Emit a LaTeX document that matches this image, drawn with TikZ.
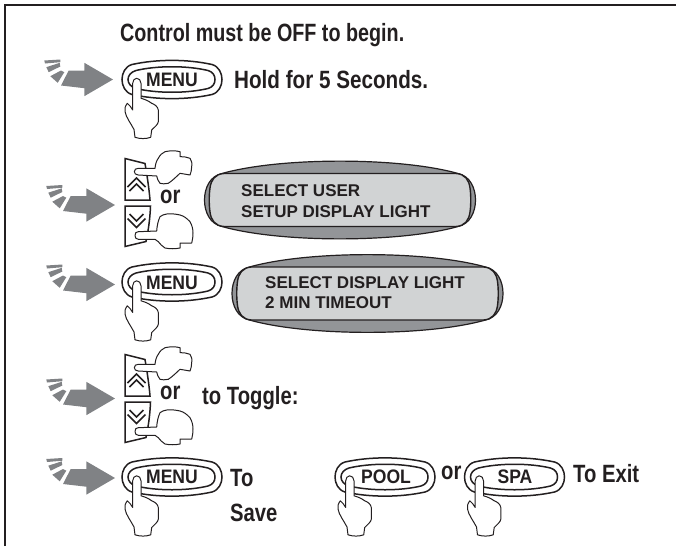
\documentclass[tikz,border=0pt]{standalone}
\usepackage{fontspec}
\setmainfont{Liberation Sans}
\definecolor{ink}{HTML}{231F20}
\definecolor{arrowgray}{HTML}{808285}
\definecolor{lcdface}{HTML}{D1D3D4}
\definecolor{lcdrim}{HTML}{939598}
\tikzset{
  x=1pt,y=-1pt,
  frameline/.style={draw=ink,line width=2pt},
  outline/.style={draw=ink,line width=1pt,line join=round},
  btnline/.style={draw=ink,line width=1.5pt},
  label/.style={anchor=west,inner sep=0pt,text=ink,font=\fontsize{25}{28}\selectfont\bfseries,xscale=.81},
  lcdtext/.style={anchor=west,inner sep=0pt,text=ink,font=\fontsize{17}{20}\selectfont\bfseries},
  btntext/.style={inner sep=0pt,text=ink,font=\fontsize{19.5}{22}\selectfont\bfseries,xscale=.9},
  pics/bigarrow/.style={code={
    \fill[arrowgray] (0,0)--(-28.7,-16.7)--(-28.7,-9)--(-44.3,-9)--(-52,6)--(-28.7,8.7)--(-28.7,16.7)--cycle;
    \fill[arrowgray] (-62.7,-3.3)--(-52,-9)--(-48.7,-7.3)--(-55.3,3.3)--cycle;
    \fill[arrowgray] (-66.7,-12.3)--(-53.3,-16.7)--(-52.7,-13)--(-64.3,-7.3)--cycle;
    \fill[arrowgray] (-68.7,-19)--(-52.7,-20)--(-52.7,-17.3)--(-68,-16)--cycle;
  }},
  pics/btn/.style={code={
    \draw[btnline,fill=white] (-40,-15) .. controls (-15,-20.5) and (15,-20.5) .. (40,-15)
      .. controls (47,-13) and (50,-6) .. (50,0) .. controls (50,6) and (47,13) .. (40,15)
      .. controls (15,20.5) and (-15,20.5) .. (-40,15)
      .. controls (-47,13) and (-50,6) .. (-50,0) .. controls (-50,-6) and (-47,-13) .. (-40,-15) -- cycle;
    \draw[btnline] (-36,-9) .. controls (-15,-14) and (15,-14) .. (36,-9)
      .. controls (41,-7.5) and (43,-4) .. (43,0) .. controls (43,4) and (41,7.5) .. (36,9)
      .. controls (15,14) and (-15,14) .. (-36,9)
      .. controls (-41,7.5) and (-44,4) .. (-44,0) .. controls (-44,-4) and (-41,-7.5) .. (-36,-9) -- cycle;
  }},
  pics/presshand/.style={code={
    \draw[outline,fill=white] (-35.3,-1.2) .. controls (-37.5,-1.2) and (-39.3,1) .. (-39.3,3.8)
      -- (-39.3,30.5) .. controls (-41,28) and (-42.5,25) .. (-44.7,23.8)
      .. controls (-47,27) and (-47.5,29) .. (-47,32)
      .. controls (-46,38) and (-41,44) .. (-38,50) -- (-37,57.8)
      .. controls (-32,59.5) and (-26,59.5) .. (-21.3,57.8) -- (-20.3,50.5)
      .. controls (-17,47) and (-14,45) .. (-13.7,42.2) -- (-13.7,30.5)
      .. controls (-14,27) and (-18,24.5) .. (-20.3,23.8)
      .. controls (-24,21) and (-27,20) .. (-31,18.8) -- (-31,3.8)
      .. controls (-31,1) and (-33,-1.2) .. (-35.3,-1.2) -- cycle;
  }},
  pics/arrowkeys/.style={code={
    % up key
    \draw[btnline] (125,158.5) -- (145,163.5) .. controls (147,175) and (149,188) .. (150,200) -- (125,200) -- cycle;
    \draw[ink,line width=1.5pt] (127.5,187) -- (136.5,178) -- (145.5,187);
    \draw[ink,line width=1.5pt] (129.5,191) -- (136.5,184) -- (143.5,191);
    % down key
    \draw[btnline] (125,206) -- (150.5,206) .. controls (150,220) and (148,232) .. (146,241.5) -- (125,246.5) -- cycle;
    \draw[ink,line width=1.5pt] (129.5,214) -- (136.5,221) -- (143.5,214);
    \draw[ink,line width=1.5pt] (127.5,218.5) -- (136.5,227.5) -- (145.5,218.5);
    % upper hand
    \draw[outline,fill=white] (134.3,171.7) .. controls (134.3,169.5) and (136,168.3) .. (138.3,168.3)
      -- (155,168.3) .. controls (155.5,163) and (157,160) .. (158.3,158.3)
      .. controls (160,155) and (162,153) .. (165,151.7)
      .. controls (170,150.5) and (176,150.5) .. (180,151.7) -- (180,156.7)
      .. controls (184,156.7) and (187,157) .. (190,158.3)
      .. controls (192,161) and (192,163) .. (191.7,166.7)
      .. controls (191.5,170) and (191,173) .. (190,175) -- (180,173.3)
      .. controls (176,177) and (172,181) .. (168.3,183.3)
      .. controls (165,184) and (162,184) .. (160,183.3)
      .. controls (158,181) and (157,178) .. (156.7,176) -- (138.3,175)
      .. controls (136,175) and (134.3,173.5) .. (134.3,171.7) -- cycle;
    % lower hand
    \draw[outline,fill=white] (135,235.5) .. controls (135,233) and (136,231.7) .. (138.3,231.7)
      -- (156.7,231) .. controls (157,226) and (158,221) .. (160,216.7)
      .. controls (162,215) and (164,214.5) .. (166.7,214)
      .. controls (171,213.5) and (176,214) .. (180,215)
      .. controls (184,216) and (187,218.5) .. (190,221.7)
      .. controls (192,225) and (193,229) .. (193,233)
      .. controls (193,237) and (192.5,240) .. (191.7,243) -- (180,243) -- (180,248)
      .. controls (175,249) and (170,249) .. (165,248)
      .. controls (162,246) and (160,244) .. (158.3,241.7) -- (155,239.3) -- (138.3,239.3)
      .. controls (136,239.3) and (135,237.5) .. (135,235.5) -- cycle;
  }},
  pics/lcd/.style={code={
    \draw[outline,line width=1.2pt,fill=lcdrim] (-118,-26.5) .. controls (-60,-43) and (60,-43) .. (118,-26.5)
      .. controls (130,-24) and (135.5,-12) .. (135.5,0)
      .. controls (135.5,12) and (130,24) .. (118,26.5)
      .. controls (60,43) and (-60,43) .. (-118,26.5)
      .. controls (-130,24) and (-135.5,12) .. (-135.5,0)
      .. controls (-135.5,-12) and (-130,-24) .. (-118,-26.5) -- cycle;
    \draw[outline,line width=1.4pt,fill=lcdface] (-116,-26.5) -- (116,-26.5)
      .. controls (125,-26) and (129,-20) .. (130,-12) .. controls (131,-5) and (131,5) .. (130,12)
      .. controls (129,20) and (125,26) .. (116,26.5) -- (-116,26.5)
      .. controls (-125,26) and (-129,20) .. (-130,12) .. controls (-131,5) and (-131,-5) .. (-130,-12)
      .. controls (-129,-20) and (-125,-26) .. (-116,-26.5) -- cycle;
  }},
}
\begin{document}
\begin{tikzpicture}
\useasboundingbox (0,0) rectangle (676,546);
\draw[frameline] (5,546) -- (5,5) -- (676,5);

\node[label,xscale=.975] (title) at (120,35.5) {Control must be OFF to begin.};

% row 1
\pic at (113,79.5) {bigarrow};
\pic at (172,79.5) {btn};
\node[btntext] (menua) at (172,79.5) {MENU};
\pic at (172,79.5) {presshand};
\node[label,xscale=1.02] (hold) at (234,79.5) {Hold for 5 Seconds.};

% row 2
\pic at (115,205) {bigarrow};
\pic at (0,0) {arrowkeys};
\node[label] (ora) at (160,197) {or};
\pic at (340,200) {lcd};
\node[lcdtext] (l1a) at (241,190.5) {SELECT USER};
\node[lcdtext] (l1b) at (241,211.5) {SETUP DISPLAY LIGHT};

% row 3
\pic at (115,284.5) {bigarrow};
\pic at (172,282) {btn};
\node[btntext] (menub) at (172,283) {MENU};
\pic at (172,282) {presshand};
\pic at (367.5,293.5) {lcd};
\node[lcdtext] (l2a) at (265,282.5) {SELECT DISPLAY LIGHT};
\node[lcdtext] (l2b) at (265,302.5) {2 MIN TIMEOUT};

% row 4
\pic at (115,398.5) {bigarrow};
\pic at (0,196) {arrowkeys};
\node[label] (orb) at (160,393) {or};
\node[label] (toggle) at (202,398.5) {to Toggle:};

% row 5
\pic at (115,478) {bigarrow};
\pic at (172,477) {btn};
\node[btntext] (menuc) at (172,477) {MENU};
\pic at (172,477) {presshand};
\node[label] (tosave) at (230,478) {To};
\node[label] (save) at (230,513) {Save};
\pic at (385,477) {btn};
\node[btntext] (pool) at (386,477) {POOL};
\pic at (385,477) {presshand};
\node[label] (orc) at (441,473) {or};
\pic at (514.5,477) {btn};
\node[btntext] (spa) at (515,477) {SPA};
\pic at (514.5,477) {presshand};
\node[label] (toexit) at (573,473.5) {To Exit};
\end{tikzpicture}
\end{document}
